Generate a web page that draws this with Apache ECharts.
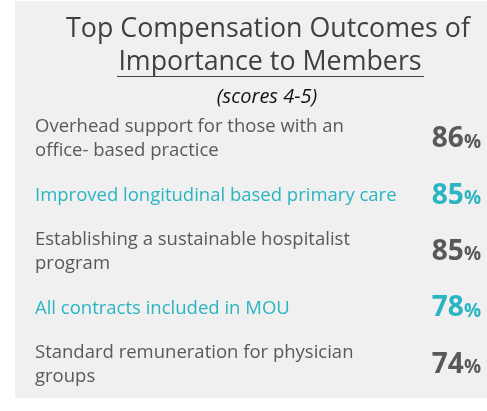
<!DOCTYPE html>
<html>
<head>
<meta charset="utf-8">
<style>
  html, body { margin: 0; padding: 0; background: #fff; }
  #chart { width: 487px; height: 411px; }
</style>
<script src="https://cdn.jsdelivr.net/npm/echarts@6/dist/echarts.min.js"></script>
</head>
<body>
<div id="chart"></div>
<script>
// outcomes, top to bottom, as they read on the slide
var outcomes = [
  'Overhead support for those with an\noffice- based practice',
  'Improved longitudinal based primary care',
  'Establishing a sustainable hospitalist\nprogram',
  'All contracts included in MOU',
  'Standard remuneration for physician\ngroups'
]
// share of members scoring 4-5 (%)
var scores = [86, 85, 85, 78, 74]
// rows drawn in the accent colour
var accent = [false, true, false, true, false]

var grey = '#595959'
var teal = '#2bb5c2'

var dom = document.getElementById('chart')
var myChart = echarts.init(dom)

var option = {
  animation: false,
  backgroundColor: '#ffffff',
  graphic: [
    {
      type: 'rect', z: -10, silent: true,
      shape: { x: 15, y: 1, width: 472, height: 397 },
      style: { fill: '#f0f0f0' }
    },
    {
      type: 'text', silent: true,
      style: {
        x: 268, y: 29, text: 'Top Compensation Outcomes of',
        textAlign: 'center', textVerticalAlign: 'middle',
        font: '26.8px "Open Sans"', fill: '#404040'
      }
    },
    {
      type: 'text', silent: true,
      style: {
        x: 270, y: 62, text: 'Importance to Members',
        textAlign: 'center', textVerticalAlign: 'middle',
        font: '26.8px "Open Sans"', fill: '#404040'
      }
    },
    {
      type: 'line', silent: true,
      shape: { x1: 117, y1: 76.5, x2: 424, y2: 76.5 },
      style: { stroke: '#404040', lineWidth: 1 }
    },
    {
      type: 'text', silent: true,
      style: {
        x: 267, y: 97, text: '(scores 4-5)',
        textAlign: 'center', textVerticalAlign: 'middle',
        font: 'italic 20px "Open Sans"', fill: '#111111'
      }
    }
  ],
  grid: { left: 35, right: 6, top: 111, bottom: 18, containLabel: false },
  xAxis: { type: 'value', min: 0, max: 100, show: false },
  yAxis: [
    {
      type: 'category',
      inverse: true,
      data: outcomes,
      position: 'left',
      axisLine: { show: false },
      axisTick: { show: false },
      splitLine: { show: false },
      axisLabel: {
        align: 'left',
        margin: 0,
        formatter: function (v, i) {
          var key = accent[i] ? 't' : 'g'
          return v.split('\n').map(function (s) { return '{' + key + '|' + s + '}' }).join('\n')
        },
        rich: {
          g: { color: grey, fontFamily: 'Open Sans', fontSize: 18.5, lineHeight: 24 },
          t: { color: teal, fontFamily: 'Open Sans', fontSize: 18.5, lineHeight: 24 }
        }
      }
    },
    {
      type: 'category',
      inverse: true,
      data: scores.map(function (s) { return String(s) }),
      position: 'right',
      axisLine: { show: false },
      axisTick: { show: false },
      splitLine: { show: false },
      axisLabel: {
        align: 'right',
        margin: 0,
        formatter: function (v, i) {
          return accent[i] ? '{tn|' + v + '}{tp|%}' : '{gn|' + v + '}{gp|%}'
        },
        rich: {
          gn: { color: grey, fontFamily: 'Open Sans', fontWeight: 'bold', fontSize: 28 },
          gp: { color: grey, fontFamily: 'Open Sans', fontWeight: 'bold', fontSize: 19, padding: [6, 0, 0, 0] },
          tn: { color: teal, fontFamily: 'Open Sans', fontWeight: 'bold', fontSize: 28 },
          tp: { color: teal, fontFamily: 'Open Sans', fontWeight: 'bold', fontSize: 19, padding: [6, 0, 0, 0] }
        }
      }
    }
  ],
  series: [
    {
      type: 'bar',
      yAxisIndex: 0,
      data: scores,
      silent: true,
      barWidth: 1,
      itemStyle: { color: 'rgba(0,0,0,0)' }
    }
  ]
}
myChart.setOption(option, true)
</script>
</body>
</html>
